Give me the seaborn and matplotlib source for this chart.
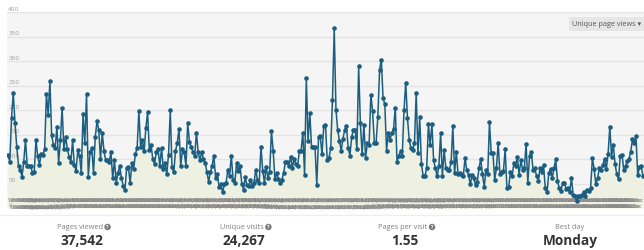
import numpy as np
import pandas as pd
import matplotlib
matplotlib.use("Agg")
import matplotlib.pyplot as plt
import seaborn as sns

# ---- data ----
views_a = [109, 94, 184, 235, 173, 125, 86, 78, 64, 94, 139, 86, 86, 86, 71, 73, 139, 106, 88, 110,
           108, 120, 233, 190, 259, 149, 129, 122, 166, 92, 139, 204, 121, 145, 121, 104, 94, 138, 88, 76,
           118, 106, 71, 192, 132, 233, 64, 114, 122, 71, 145, 177, 160, 100, 153, 117, 97, 97, 94, 114,
           61, 97, 52, 71, 86, 62, 45, 37, 82, 84, 51, 92, 79, 110, 123, 197, 125, 139, 116, 163,
           195, 118, 129, 99, 90, 114, 120, 86, 123]
views_b = [80, 91, 69, 109, 199, 83, 73, 116, 133, 161, 86, 120, 114, 86, 173, 135, 125, 115, 107, 154,
           114, 97, 115, 100, 92, 74, 54, 73, 86, 107, 61, 69, 43, 48, 32, 48, 51, 78, 66, 107,
           58, 52, 91, 76, 86, 50, 37, 63, 46, 45, 57, 45, 52, 78, 57, 52, 125, 76, 52, 84,
           62, 73, 157, 117, 59, 71, 59, 51, 58, 71, 94, 93, 86, 105, 82, 100, 90, 86, 116, 117,
           154, 68, 265, 137, 194, 125, 124, 124, 47, 144]
views_c = [146, 110, 168, 170, 98, 102, 123, 221, 367, 201, 159, 137, 117, 141, 159, 167, 123, 107, 145, 160,
           160, 120, 289, 173, 110, 169, 103, 133, 129, 231, 198, 133, 133, 186, 282, 303, 224, 212, 117, 154,
           139, 154, 161, 205, 94, 107, 116, 107, 199, 256, 183, 139, 122, 118, 133, 235, 112, 185, 90, 65,
           65, 81, 171, 129, 171, 97, 81, 65, 86, 153, 66, 118, 82, 77, 78, 93, 167, 71, 114, 69,
           71, 67, 65, 102, 77, 68, 48, 67, 61, 46, 54, 81, 100]
views_d = [69, 43, 77, 69, 176, 112, 112, 57, 82, 133, 69, 74, 75, 120, 41, 42, 73, 65, 92, 86,
           105, 68, 97, 78, 82, 131, 52, 107, 114, 78, 81, 65, 56, 82, 73, 88, 41, 32, 71, 80,
           61, 81, 99, 56, 40, 35, 51, 51, 39, 40, 32, 61, 27, 24, 14, 24, 24, 27, 32, 25,
           37, 35, 41, 102, 80, 48, 61, 81, 78, 88, 100, 80, 110, 166, 105, 129, 90, 69, 59, 107,
           109, 78, 86, 95, 100, 115, 141, 132, 146, 67, 83, 85, 65]
page_views = views_a + views_b + views_c + views_d

y_ticks = [0, 50, 100, 150, 200, 250, 300, 350, 400]
stat_titles = ["Pages viewed", "Unique visits", "Pages per visit", "Best day"]
stat_values = ["37,542", "24,267", "1.55", "Monday"]
stat_help = [True, True, True, False]
series_name = "Unique page views"

n = len(page_views)
dates = pd.date_range("2017-01-01", periods=n, freq="D")


def ordinal(d):
    suf = "th" if 11 <= d % 100 <= 13 else {1: "st", 2: "nd", 3: "rd"}.get(d % 10, "th")
    return f"{d}{suf}"


day_labels = [f"{d.strftime('%a')} {ordinal(d.day)} {d.strftime('%b')}" for d in dates]

df = pd.DataFrame({"idx": np.arange(n), "views": page_views})

# ---- styling ----
sns.set_style("white")
plt.rcParams["font.family"] = ["Open Sans", "DejaVu Sans"]

W, H = 644, 251
fig = plt.figure(figsize=(W / 100, H / 100), dpi=100)
fig.patch.set_facecolor("white")

ax_left, ax_right, ax_top, ax_bot = 7, 644, 13, 209
ax = fig.add_axes([ax_left / W, 1 - ax_bot / H, (ax_right - ax_left) / W, (ax_bot - ax_top) / H])
ax.set_facecolor("#f5f5f5")

line_c = "#1c5e82"
ax.fill_between(df["idx"], df["views"], 0, color="#eef0e2", zorder=1, lw=0)
sns.lineplot(data=df, x="idx", y="views", ax=ax, color=line_c, lw=1.1,
             marker="o", markersize=3.3, markeredgewidth=0, zorder=4)

ax.set_xlim(-0.6, n - 0.4)
ax.set_ylim(0, 400)
ax.set_yticks(y_ticks)
ax.set_xticks([])
ax.tick_params(left=False, bottom=False, labelleft=False, labelbottom=False)
ax.grid(axis="y", color="#e4e4e4", lw=1.0, zorder=0)
ax.set_xlabel("")
ax.set_ylabel("")
for s in ax.spines.values():
    s.set_visible(False)

# y labels inside the plot, sitting just above their grid lines
for v in y_ticks:
    ax.text(0.002, v + 2.5, str(v), transform=ax.get_yaxis_transform(), ha="left", va="bottom",
            fontsize=4.6, color="#a0a0a0", zorder=2)

# dense, overlapping date labels (as in the reference)
trans = ax.get_xaxis_transform()
for i, lab in enumerate(day_labels):
    yrow = 0.045 if i % 2 == 0 else 0.012
    ha = "center"
    if i < 8:
        ha = "left"
    elif i > n - 9:
        ha = "right"
    ax.text(i, yrow, lab, transform=trans, ha=ha, va="center", fontsize=3.3,
            color="#8a8a8a", zorder=2)

# series selector button
fig.text(572 / W, 1 - 25 / H, series_name + " \u25be", fontsize=5.2, color="#555555",
         ha="left", va="center",
         bbox=dict(boxstyle="square,pad=0.45", fc="#e6e6e6", ec="none"))

# separator
fig.add_artist(plt.Line2D([0, 1], [1 - 216 / H, 1 - 216 / H], color="#eeeeee", lw=1.0))

# summary stats
centers = [84, 246, 407, 570]
renderer = fig.canvas.get_renderer()
for cx, t, val, hlp in zip(centers, stat_titles, stat_values, stat_help):
    xt = (cx - 4) / W if hlp else cx / W
    tt = fig.text(xt, 1 - 228 / H, t, fontsize=5.3, color="#808080", ha="center", va="center")
    fig.text(cx / W - (2 / W if hlp else 0), 1 - 241 / H, val, fontsize=9.8, fontweight="bold",
             color="#333333", ha="center", va="center")
    if hlp:
        bb = tt.get_window_extent(renderer)
        fig.text((bb.x1 + 4.5) / W, 1 - 228 / H, "?", fontsize=3.6, fontweight="bold", color="white",
                 ha="center", va="center",
                 bbox=dict(boxstyle="circle,pad=0.15", fc="#7a7a7a", ec="none"))

fig.savefig("out.png", dpi=100)
